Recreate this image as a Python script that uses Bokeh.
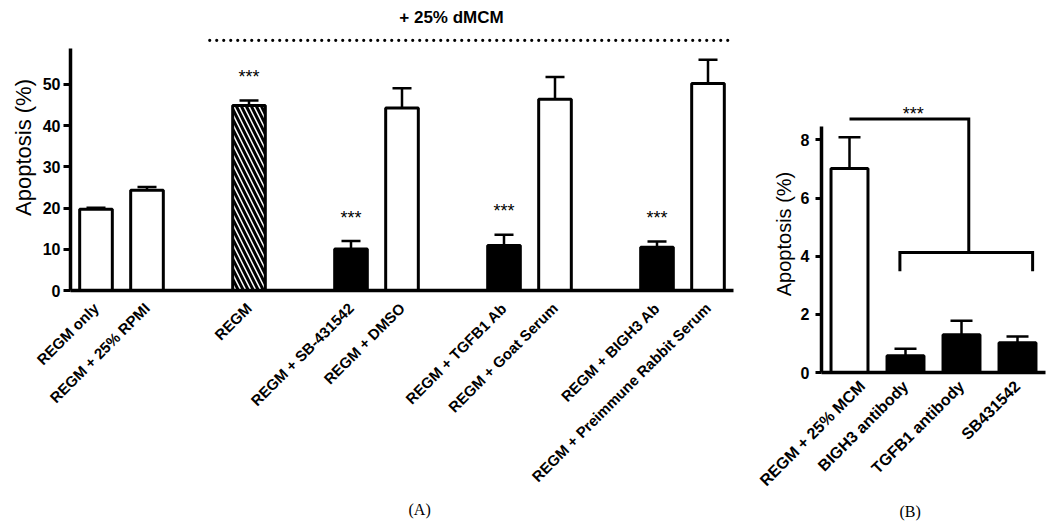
import math
from bokeh.plotting import figure
from bokeh.models import ColumnDataSource, FixedTicker, Whisker, TeeHead, Label, Title
from bokeh.embed import file_html
from bokeh.resources import INLINE
from bokeh.core.properties import value

FONT = "Liberation Sans"

# ---------------- Panel A data ----------------
groups_a = [
    ["REGM only", "REGM + 25% RPMI"],
    ["REGM"],
    ["REGM + SB-431542", "REGM + DMSO"],
    ["REGM + TGFB1 Ab", "REGM + Goat Serum"],
    ["REGM + BIGH3 Ab", "REGM + Preimmune Rabbit Serum"],
]
means_a = [19.7, 24.3, 44.9, 10.1, 44.3, 10.9, 46.4, 10.5, 50.2]
sem_a = [0.4, 0.8, 1.2, 1.9, 4.8, 2.6, 5.4, 1.4, 5.8]
styles_a = ["open", "open", "hatch", "solid", "open", "solid", "open", "solid", "open"]
stars_a = [False, False, True, True, False, True, False, True, False]

# ---------------- Panel B data ----------------
labels_b = ["REGM + 25% MCM", "BIGH3 antibody", "TGFB1 antibody", "SB431542"]
means_b = [7.02, 0.58, 1.30, 1.02]
sem_b = [1.07, 0.24, 0.48, 0.22]
styles_b = ["open", "solid", "solid", "solid"]

# positions with a one-slot gap between groups
labels_a, pos_a = [], []
slot = 0
for g in groups_a:
    for lab in g:
        labels_a.append(lab)
        pos_a.append(slot)
        slot += 1
    slot += 1
x_end_a = pos_a[-1] + 0.5


def style_axes(p, font_tick, font_x, tick_out, tick_standoff):
    p.background_fill_color = "white"
    p.border_fill_color = "white"
    p.outline_line_color = None
    p.xgrid.visible = False
    p.ygrid.visible = False
    for ax in (p.xaxis[0], p.yaxis[0]):
        ax.axis_line_width = 3.5
        ax.axis_line_color = "black"
        ax.minor_tick_line_color = None
        ax.major_label_text_font = FONT
        ax.major_label_text_font_style = "bold"
        ax.major_label_text_color = "black"
    p.yaxis.major_tick_line_width = 3
    p.yaxis.major_tick_out = tick_out
    p.yaxis.major_tick_in = 0
    p.yaxis.major_label_text_font_size = font_tick
    p.yaxis.major_label_standoff = tick_standoff
    p.xaxis.major_tick_line_color = None
    p.xaxis.major_tick_out = 0
    p.xaxis.major_tick_in = 0
    p.xaxis.major_label_orientation = math.pi / 4
    p.xaxis.major_label_text_font_size = font_x
    p.yaxis.axis_label_text_font = FONT
    p.yaxis.axis_label_text_font_style = "normal"
    p.yaxis.axis_label_text_color = "black"


def panel_label(p, text, offset, standoff):
    p.add_layout(Title(text=text, align="left", offset=offset, standoff=standoff,
                       text_font="Liberation Serif", text_font_style="normal",
                       text_font_size="16px", text_color="black"), "below")


def draw_bars(p, xs, means, sems, styles, width, head):
    tops = [m + s for m, s in zip(means, sems)]
    src = ColumnDataSource(dict(x=xs, top=means, upper=tops))
    p.add_layout(Whisker(base="x", lower="top", upper="upper", source=src,
                         dimension="height", line_width=2.5, line_color="black",
                         upper_head=TeeHead(size=head, line_width=2.5, line_color="black"),
                         lower_head=None, level="underlay"))
    for st in ("open", "hatch", "solid"):
        idx = [i for i, s in enumerate(styles) if s == st]
        if not idx:
            continue
        s = ColumnDataSource(dict(x=[xs[i] for i in idx], top=[means[i] for i in idx]))
        kw = dict(fill_color="white", line_color="black", line_width=3)
        if st == "solid":
            kw["fill_color"] = "black"
        if st == "hatch":
            kw.update(hatch_pattern="\\", hatch_color="black", hatch_scale=10, hatch_weight=3)
        p.vbar(x="x", top="top", bottom=0, width=width, source=s, **kw)
    return tops


# ---------------- Figure A ----------------
pa = figure(frame_width=663, frame_height=286, x_range=(-0.5, x_end_a), y_range=(0, 69.4),
            output_backend="svg", toolbar_location=None,
            min_border_left=70, min_border_right=23, min_border_top=4, min_border_bottom=225)
style_axes(pa, "16px", "15px", 7, 3)
pa.yaxis.ticker = FixedTicker(ticks=[0, 10, 20, 30, 40, 50])
pa.yaxis.bounds = (0, 58.7)
pa.yaxis.axis_label = "Apoptosis (%)"
pa.yaxis.axis_label_text_font_size = "22px"
pa.yaxis.axis_label_standoff = 4
pa.xaxis.ticker = FixedTicker(ticks=pos_a)
pa.xaxis.major_label_overrides = {p_: l_ for p_, l_ in zip(pos_a, labels_a)}
pa.xaxis.bounds = (-0.5, x_end_a)
pa.xaxis.major_label_standoff = 15
panel_label(pa, "(A)", 338, 8)

tops_a = draw_bars(pa, pos_a, means_a, sem_a, styles_a, 0.64, 19)

sx = [pos_a[i] for i in range(len(pos_a)) if stars_a[i]]
sy = [tops_a[i] + 5.7 for i in range(len(pos_a)) if stars_a[i]]
pa.text(x=sx, y=sy, text=["***"] * len(sx), text_font=value(FONT),
        text_font_size="18px", text_align="center", text_baseline="alphabetic",
        text_color="black")

# dotted bracket for the dMCM groups
pa.line(x=[2.23, 12.4], y=[60.7, 60.7], line_dash="0 7", line_cap="round",
        line_width=3.2, line_color="black")
pa.add_layout(Label(x=6.97, y=66.3, text="+ 25% dMCM", text_font=FONT,
                    text_font_style="bold", text_font_size="17px",
                    text_align="center", text_baseline="middle", text_color="black"))

# ---------------- Figure B ----------------
pos_b = list(range(len(labels_b)))
pb = figure(frame_width=224, frame_height=277, x_range=(-0.5, len(labels_b) - 0.5),
            y_range=(0, 9.53), output_backend="svg", toolbar_location=None,
            min_border_left=65, min_border_right=3, min_border_top=95, min_border_bottom=143)
style_axes(pb, "16px", "16px", 6, 6)
pb.yaxis.ticker = FixedTicker(ticks=[0, 2, 4, 6, 8])
pb.yaxis.bounds = (0, 8.45)
pb.yaxis.axis_label = "Apoptosis (%)"
pb.yaxis.axis_label_text_font_size = "20px"
pb.yaxis.axis_label_standoff = 3
pb.xaxis.ticker = FixedTicker(ticks=pos_b)
pb.xaxis.major_label_overrides = {p_: l_ for p_, l_ in zip(pos_b, labels_b)}
pb.xaxis.bounds = (-0.5, len(labels_b) - 0.5)
pb.xaxis.major_label_standoff = 11
panel_label(pb, "(B)", 78, 4)

draw_bars(pb, pos_b, means_b, sem_b, styles_b, 0.66, 22)

# significance bracket
pb.multi_line(xs=[[0, 2.13, 2.13], [0.9, 0.9, 3.27, 3.27]],
              ys=[[8.72, 8.72, 4.13], [3.48, 4.13, 4.13, 3.48]],
              line_width=3, line_color="black", line_join="miter")
pb.text(x=[1.14], y=[8.9], text=["***"], text_font=value(FONT), text_font_size="18px",
        text_align="center", text_baseline="alphabetic", text_color="black")

TEMPLATE = """
{% block contents %}
<div style="display:flex;flex-direction:row;align-items:flex-start;">
{%- for doc in docs %}
{{ embed(doc) if doc.elementid }}
{%- for root in doc.roots %}
{{ embed(root) }}
{%- endfor %}
{%- endfor %}
</div>
{% endblock %}
"""

open("out.html", "w").write(file_html([pa, pb], INLINE, template=TEMPLATE))
